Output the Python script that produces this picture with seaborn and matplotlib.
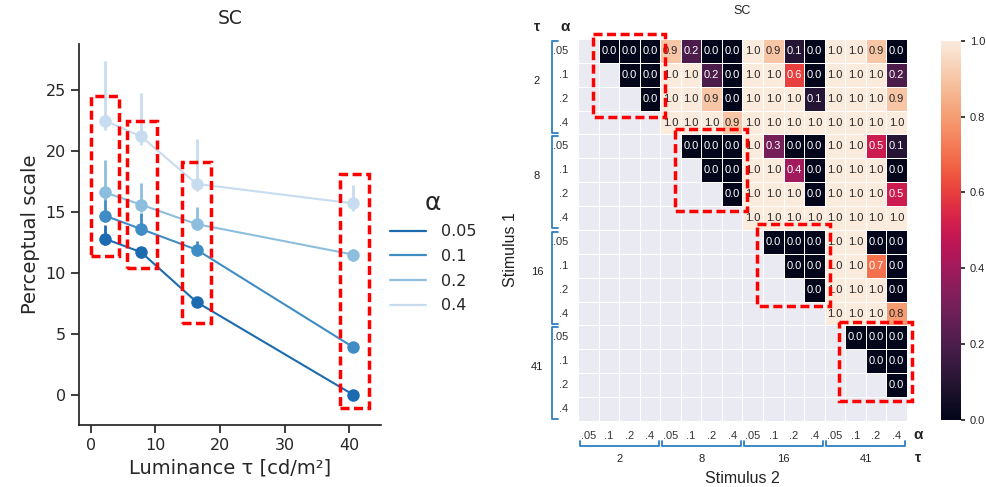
import numpy as np
import pandas as pd
import seaborn as sns
import matplotlib.pyplot as plt
from matplotlib.lines import Line2D
from matplotlib.patches import Rectangle
from matplotlib.transforms import blended_transform_factory

# ---- left panel data: perceptual scale vs luminance ----
luminance = [2.2, 7.8, 16.4, 40.6]
alpha_levels = ["0.05", "0.1", "0.2", "0.4"]
scale_a005 = [12.8, 11.7, 7.6, 0.0]
scale_a01 = [14.7, 13.6, 11.9, 3.9]
scale_a02 = [16.6, 15.6, 14.0, 11.5]
scale_a04 = [22.5, 21.2, 17.3, 15.7]
upper_a005 = [13.9, 12.1, 7.9, 0.0]
upper_a01 = [16.1, 14.9, 12.6, 4.2]
upper_a02 = [19.3, 17.4, 15.4, 12.0]
upper_a04 = [27.4, 24.8, 21.0, 17.2]
lower_a005 = [12.3, 11.2, 7.2, 0.0]
lower_a01 = [14.2, 13.1, 11.4, 3.6]
lower_a02 = [16.0, 15.0, 13.5, 11.0]
lower_a04 = [21.7, 20.5, 16.7, 15.1]
blues = ["#1c6aaf", "#3f8dc4", "#8dbedd", "#c8dcef"]

# ---- right panel data: upper triangle of pairwise matrix ----
alpha_ticks = [".05", ".1", ".2", ".4"]
tau_groups = ["2", "8", "16", "41"]
upper_rows = [
    [0.0, 0.0, 0.0, 0.9, 0.2, 0.0, 0.0, 1.0, 0.9, 0.1, 0.0, 1.0, 1.0, 0.9, 0.0],
    [0.0, 0.0, 1.0, 1.0, 0.2, 0.0, 1.0, 1.0, 0.6, 0.0, 1.0, 1.0, 1.0, 0.2],
    [0.0, 1.0, 1.0, 0.9, 0.0, 1.0, 1.0, 1.0, 0.1, 1.0, 1.0, 1.0, 0.9],
    [1.0, 1.0, 1.0, 0.9, 1.0, 1.0, 1.0, 1.0, 1.0, 1.0, 1.0, 1.0],
    [0.0, 0.0, 0.0, 1.0, 0.3, 0.0, 0.0, 1.0, 1.0, 0.5, 0.1],
    [0.0, 0.0, 1.0, 1.0, 0.4, 0.0, 1.0, 1.0, 1.0, 0.0],
    [0.0, 1.0, 1.0, 1.0, 0.0, 1.0, 1.0, 1.0, 0.5],
    [1.0, 1.0, 1.0, 1.0, 1.0, 1.0, 1.0, 1.0],
    [0.0, 0.0, 0.0, 1.0, 1.0, 0.0, 0.0],
    [0.0, 0.0, 1.0, 1.0, 0.7, 0.0],
    [0.0, 1.0, 1.0, 1.0, 0.0],
    [1.0, 1.0, 1.0, 0.8],
    [0.0, 0.0, 0.0],
    [0.0, 0.0],
    [0.0],
    [],
]

n = len(upper_rows)
mat = np.full((n, n), np.nan)
for i, row in enumerate(upper_rows):
    mat[i, i + 1:] = row
labels = alpha_ticks * len(tau_groups)

df = pd.DataFrame({
    "lum": luminance * 4,
    "scale": scale_a005 + scale_a01 + scale_a02 + scale_a04,
    "alpha": sum([[a] * 4 for a in alpha_levels], []),
})
lows = [lower_a005, lower_a01, lower_a02, lower_a04]
highs = [upper_a005, upper_a01, upper_a02, upper_a04]

sns.set_theme(style="ticks")
plt.rcParams["font.family"] = ["DejaVu Sans"]
fig = plt.figure(figsize=(9.87, 4.87), dpi=100)

# ---------------- left panel ----------------
ax1 = fig.add_axes([0.080, 0.127, 0.306, 0.783])
for k, a in enumerate(alpha_levels):
    ax1.vlines(luminance, lows[k], highs[k], color=blues[k], lw=2, zorder=2)
sns.lineplot(data=df, x="lum", y="scale", hue="alpha", palette=blues,
             marker="o", markersize=9, markeredgewidth=0, linewidth=1.5,
             legend=False, ax=ax1, zorder=3)
ax1.set_xlim(-1.8, 44.9)
ax1.set_ylim(-2.5, 28.8)
ax1.set_xticks([0, 10, 20, 30, 40])
ax1.set_yticks([0, 5, 10, 15, 20, 25])
ax1.tick_params(labelsize=11.5)
ax1.set_xlabel("Luminance τ [cd/m²]", fontsize=14)
ax1.set_ylabel("Perceptual scale", fontsize=14)
ax1.set_title("SC", fontsize=13.5, pad=14)
sns.despine(ax=ax1)

handles = [Line2D([0], [0], color=c, lw=1.6) for c in blues]
leg = ax1.legend(handles, alpha_levels, title="α", frameon=False,
                 loc="center left", bbox_to_anchor=(376 / 987, 1 - 252 / 487),
                 bbox_transform=fig.transFigure, fontsize=11.5,
                 handlelength=2.25, handletextpad=0.9, labelspacing=0.6)
leg.get_title().set_fontsize(18)

red_boxes_left = [(0.05, 11.4, 4.35, 13.1), (5.7, 10.4, 4.5, 12.1),
                  (14.2, 5.9, 4.4, 13.2), (38.6, -1.1, 4.4, 19.2)]
for x0, y0, w, h in red_boxes_left:
    ax1.add_patch(Rectangle((x0, y0), w, h, fill=False, ec="red", lw=2.5,
                            ls=(0, (2.6, 1.3)), clip_on=False, zorder=5))

# ---------------- right panel ----------------
with sns.axes_style("darkgrid"):
    ax2 = fig.add_axes([0.5856, 0.1355, 0.3333, 0.7845])
cax = fig.add_axes([0.953, 0.1375, 0.0203, 0.779])
hfont = ["Liberation Sans", "DejaVu Sans"]
sns.heatmap(mat, vmin=0, vmax=1, cmap="rocket", annot=True, fmt=".1f",
            annot_kws={"size": 8, "family": hfont}, linewidths=0.5,
            linecolor="white", ax=ax2, cbar_ax=cax,
            xticklabels=labels, yticklabels=labels)
ax2.grid(False)
ax2.tick_params(length=0, labelsize=8, pad=7)
for t in ax2.get_xticklabels() + ax2.get_yticklabels():
    t.set_family(hfont)
    t.set_color("#333333")
plt.setp(ax2.get_yticklabels(), rotation=0)
plt.setp(ax2.get_xticklabels(), rotation=0)
cax.set_yticks([0, 0.2, 0.4, 0.6, 0.8, 1.0])
cax.tick_params(labelsize=8, length=3)
for t in cax.get_yticklabels():
    t.set_family(hfont)

txt = dict(family=hfont, color="#222222")
ax2.text(0.5, 1.072, "SC", transform=ax2.transAxes, ha="center", va="center",
         fontsize=9, **txt)
ax2.text(0.5, -0.15, "Stimulus 2", transform=ax2.transAxes, ha="center",
         va="center", fontsize=11.5, **txt)
ax2.text(-0.204, 0.45, "Stimulus 1", transform=ax2.transAxes, ha="center",
         va="center", rotation=90, fontsize=11.5, **txt)
ax2.text(-0.125, 1.03, "τ", transform=ax2.transAxes, ha="center",
         va="center", fontsize=10, fontweight="bold", **txt)
ax2.text(-0.04, 1.03, "α", transform=ax2.transAxes, ha="center",
         va="center", fontsize=11, fontweight="bold", **txt)
ax2.text(1.033, -0.037, "α", transform=ax2.transAxes, ha="center",
         va="center", fontsize=11, fontweight="bold", **txt)
ax2.text(1.033, -0.097, "τ", transform=ax2.transAxes, ha="center",
         va="center", fontsize=10, fontweight="bold", **txt)

bx = blended_transform_factory(ax2.transData, ax2.transAxes)
by = blended_transform_factory(ax2.transAxes, ax2.transData)
bcol = "#2f7fc1"
for g, name in enumerate(tau_groups):
    a, b = 4 * g + 0.08, 4 * g + 3.92
    ax2.plot([a, a, b, b], [-0.052, -0.065, -0.065, -0.052], color=bcol,
             lw=1.3, transform=bx, clip_on=False)
    ax2.text(4 * g + 2, -0.1, name, transform=bx, ha="center", va="center",
             fontsize=8, **txt)
    ax2.plot([-0.061, -0.080, -0.080, -0.061], [a, a, b, b], color=bcol,
             lw=1.3, transform=by, clip_on=False)
    ax2.text(-0.125, 4 * g + 1.75, name, transform=by, ha="center",
             va="center", fontsize=8, **txt)

red_boxes_right = [(0.71, -0.2, 3.51, 3.45), (4.7, 3.75, 3.5, 3.47),
                   (8.7, 7.75, 3.57, 3.42), (12.68, 11.84, 3.57, 3.31)]
for x0, y0, w, h in red_boxes_right:
    ax2.add_patch(Rectangle((x0, y0), w, h, fill=False, ec="red", lw=2.5,
                            ls=(0, (2.6, 1.3)), clip_on=False, zorder=5))

fig.savefig("out.png", dpi=100)
